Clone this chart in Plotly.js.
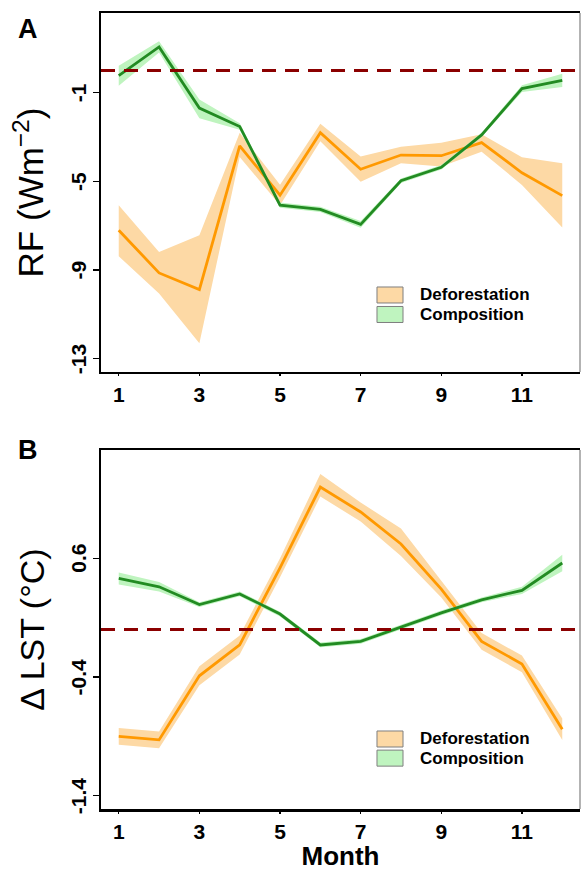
<!DOCTYPE html>
<html><head><meta charset="utf-8">
<script src="https://cdn.plot.ly/plotly-3.0.1.min.js"></script>
<style>html,body{margin:0;padding:0;background:#fff;}</style>
</head><body>
<div id="chart" style="width:581px;height:871px;"></div>
<script>
// ---- data ----
const months = [1,2,3,4,5,6,7,8,9,10,11,12];
const monthTicks = [1,3,5,7,9,11];
const monthTickText = ['1','3','5','7','9','11'];
const rfTicks = [-13,-9,-5,-1];
const rfTickText = ['-13','-9','-5','-1'];
const lstTicks = [-1.4,-0.4,0.6];
const lstTickText = ['-1.4','-0.4','0.6'];
const seriesNames = ['Deforestation','Composition'];

// Panel A: radiative forcing (W m-2)
const rfDefor   = [-7.20,-9.13,-9.88,-3.40,-5.62,-2.80,-4.45,-3.81,-3.84,-3.25,-4.61,-5.64];
const rfDeforHi = [-6.07,-8.18,-7.43,-2.80,-5.15,-2.40,-3.88,-3.43,-3.25,-2.87,-3.91,-4.18];
const rfDeforLo = [-8.38,-10.06,-12.30,-3.90,-6.07,-3.19,-5.01,-4.18,-4.33,-3.66,-5.16,-7.08];
const rfComp    = [-0.23, 1.07,-1.69,-2.52,-6.07,-6.26,-6.94,-4.97,-4.36,-2.90,-0.81,-0.44];
const rfCompHi  = [ 0.22, 1.33,-1.30,-2.37,-5.95,-6.14,-6.79,-4.87,-4.26,-2.80,-0.66,-0.14];
const rfCompLo  = [-0.68, 0.82,-2.15,-2.67,-6.19,-6.38,-7.09,-5.07,-4.46,-3.00,-0.96,-0.74];

// Panel B: change in land surface temperature (deg C)
const lstDefor   = [-0.90,-0.93,-0.39,-0.13, 0.52, 1.20, 0.99, 0.72, 0.34,-0.10,-0.29,-0.84];
const lstDeforHi = [-0.83,-0.86,-0.31,-0.05, 0.60, 1.31, 1.07, 0.85, 0.41,-0.03,-0.22,-0.75];
const lstDeforLo = [-0.97,-1.00,-0.47,-0.21, 0.44, 1.12, 0.91, 0.62, 0.27,-0.17,-0.36,-0.93];
const lstComp    = [ 0.43, 0.36, 0.21, 0.30, 0.13,-0.13,-0.10, 0.02, 0.14, 0.25, 0.33, 0.56];
const lstCompHi  = [ 0.48, 0.40, 0.23, 0.32, 0.15,-0.11,-0.08, 0.04, 0.16, 0.27, 0.36, 0.63];
const lstCompLo  = [ 0.38, 0.32, 0.19, 0.28, 0.11,-0.15,-0.12, 0.00, 0.12, 0.23, 0.30, 0.49];

// ---- styles ----
const FONT = 'Liberation Sans, Arial, Helvetica, sans-serif';
const orangeLine = '#FF9900';
const orangeBand = 'rgb(253,217,165)';
const greenLine = '#228B22';
const greenBand = 'rgb(191,244,191)';
const bandColors = [orangeBand, greenBand];

function band(lo, hi, color, name, xa, ya) {
  return {
    x: months.concat(months.slice().reverse()),
    y: hi.concat(lo.slice().reverse()),
    type: 'scatter', mode: 'lines', fill: 'toself', fillcolor: color,
    line: {width: 0, color: 'rgba(0,0,0,0)'},
    name: name, xaxis: xa, yaxis: ya, showlegend: false, hoverinfo: 'skip'
  };
}
function line(y, color, name, xa, ya) {
  return {
    x: months, y: y, type: 'scatter', mode: 'lines',
    line: {color: color, width: 2.8}, name: name, xaxis: xa, yaxis: ya, showlegend: false
  };
}

const traces = [
  band(rfDeforLo, rfDeforHi, orangeBand, seriesNames[0], 'x', 'y'),
  band(rfCompLo, rfCompHi, greenBand, seriesNames[1], 'x', 'y'),
  line(rfDefor, orangeLine, seriesNames[0], 'x', 'y'),
  line(rfComp, greenLine, seriesNames[1], 'x', 'y'),
  band(lstDeforLo, lstDeforHi, orangeBand, seriesNames[0], 'x2', 'y2'),
  band(lstCompLo, lstCompHi, greenBand, seriesNames[1], 'x2', 'y2'),
  line(lstDefor, orangeLine, seriesNames[0], 'x2', 'y2'),
  line(lstComp, greenLine, seriesNames[1], 'x2', 'y2')
];

const tickFont = {family: FONT, size: 21, color: '#000', weight: 'bold'};
function xAxis(anchor, withTitle) {
  const ax = {
    anchor: anchor, domain: [0, 1], range: [0.56, 12.44],
    tickmode: 'array', tickvals: monthTicks, ticktext: monthTickText,
    showgrid: false, zeroline: false, showline: true, linecolor: '#000', linewidth: 2.5,
    mirror: true, ticks: 'outside', ticklen: 2, tickwidth: 1.2, tickcolor: '#000',
    tickfont: tickFont
  };
  if (withTitle) ax.title = {text: 'Month', font: {family: FONT, size: 26, color: '#000', weight: 'bold'}, standoff: 20};
  return ax;
}
function yAxis(anchor, domain, range, vals, title, size) {
  return {
    anchor: anchor, domain: domain, range: range,
    tickmode: 'array', tickvals: vals, showticklabels: false,
    showgrid: false, zeroline: false, showline: true, linecolor: '#000', linewidth: 2.5,
    mirror: false, ticks: 'outside', ticklen: 6, tickwidth: 1.2, tickcolor: '#000',
    title: {text: title, font: {family: FONT, size: size, color: '#000'}, standoff: 38}
  };
}

// rotated y tick labels, placed on the axis scale
function yTickLabels(vals, texts, yr) {
  return vals.map(function(v, i) {
    return {text: texts[i], xref: 'paper', yref: yr, x: -0.047, y: v,
      xanchor: 'center', yanchor: 'middle', textangle: -90, showarrow: false,
      font: tickFont};
  });
}

// legend boxes (positions relative to each panel's domain)
function legendItems(xr, yr, tops) {
  const shapes = [], anns = [];
  seriesNames.forEach(function(nm, i) {
    shapes.push({type: 'rect', xref: xr, yref: yr, x0: 0.5762, x1: 0.6305,
      y0: tops[i] - 0.0446, y1: tops[i], fillcolor: bandColors[i],
      line: {color: '#7f7f7f', width: 1}, layer: 'above'});
    anns.push({text: nm, xref: xr, yref: yr, x: 0.6618, y: tops[i] - 0.0223,
      xanchor: 'left', yanchor: 'middle', showarrow: false,
      font: {family: FONT, size: 17, color: '#000', weight: 'bold'}});
  });
  return {shapes: shapes, anns: anns};
}
const legA = legendItems('x domain', 'y domain', [0.2368, 0.1825]);
const legB = legendItems('x2 domain', 'y2 domain', [0.2173, 0.1640]);

const layout = {
  width: 581, height: 871,
  margin: {l: 101, r: 1, t: 13, b: 62, pad: 0},
  paper_bgcolor: '#fff', plot_bgcolor: '#fff',
  font: {family: FONT, color: '#000'},
  showlegend: false,
  xaxis: xAxis('y', false),
  xaxis2: xAxis('y2', true),
  yaxis: yAxis('x', [0.549, 1], [-13.6, 2.6], rfTicks, 'RF (Wm<sup>\u22122</sup>)', 35),
  yaxis2: yAxis('x2', [0, 0.451], [-1.512, 1.512], lstTicks, '\u0394 LST (\u00B0C)', 34),
  shapes: [
    {type: 'line', xref: 'x domain', x0: 0, x1: 1, yref: 'y', y0: 0, y1: 0,
     line: {color: '#8B0000', width: 3, dash: '14px,9px'}, layer: 'above'},
    {type: 'line', xref: 'x2 domain', x0: 0, x1: 1, yref: 'y2', y0: 0, y1: 0,
     line: {color: '#8B0000', width: 3, dash: '14px,9px'}, layer: 'above'},
    {type: 'line', xref: 'x domain', x0: 1, x1: 1, yref: 'y domain', y0: 0, y1: 1,
     line: {color: '#9a9a9a', width: 1.5}},
    {type: 'line', xref: 'x2 domain', x0: 1, x1: 1, yref: 'y2 domain', y0: 0, y1: 1,
     line: {color: '#9a9a9a', width: 1.5}}
  ].concat(legA.shapes, legB.shapes),
  annotations: [
    {text: 'A', xref: 'paper', yref: 'paper', x: -0.152, y: 0.98, xanchor: 'center', yanchor: 'middle',
     showarrow: false, font: {family: FONT, size: 27, color: '#000', weight: 'bold'}},
    {text: 'B', xref: 'paper', yref: 'paper', x: -0.152, y: 0.451, xanchor: 'center', yanchor: 'middle',
     showarrow: false, font: {family: FONT, size: 27, color: '#000', weight: 'bold'}}
  ].concat(legA.anns, legB.anns,
           yTickLabels(rfTicks, rfTickText, 'y'),
           yTickLabels(lstTicks, lstTickText, 'y2'))
};

Plotly.newPlot('chart', traces, layout, {displayModeBar: false, staticPlot: true});
</script>
</body></html>
